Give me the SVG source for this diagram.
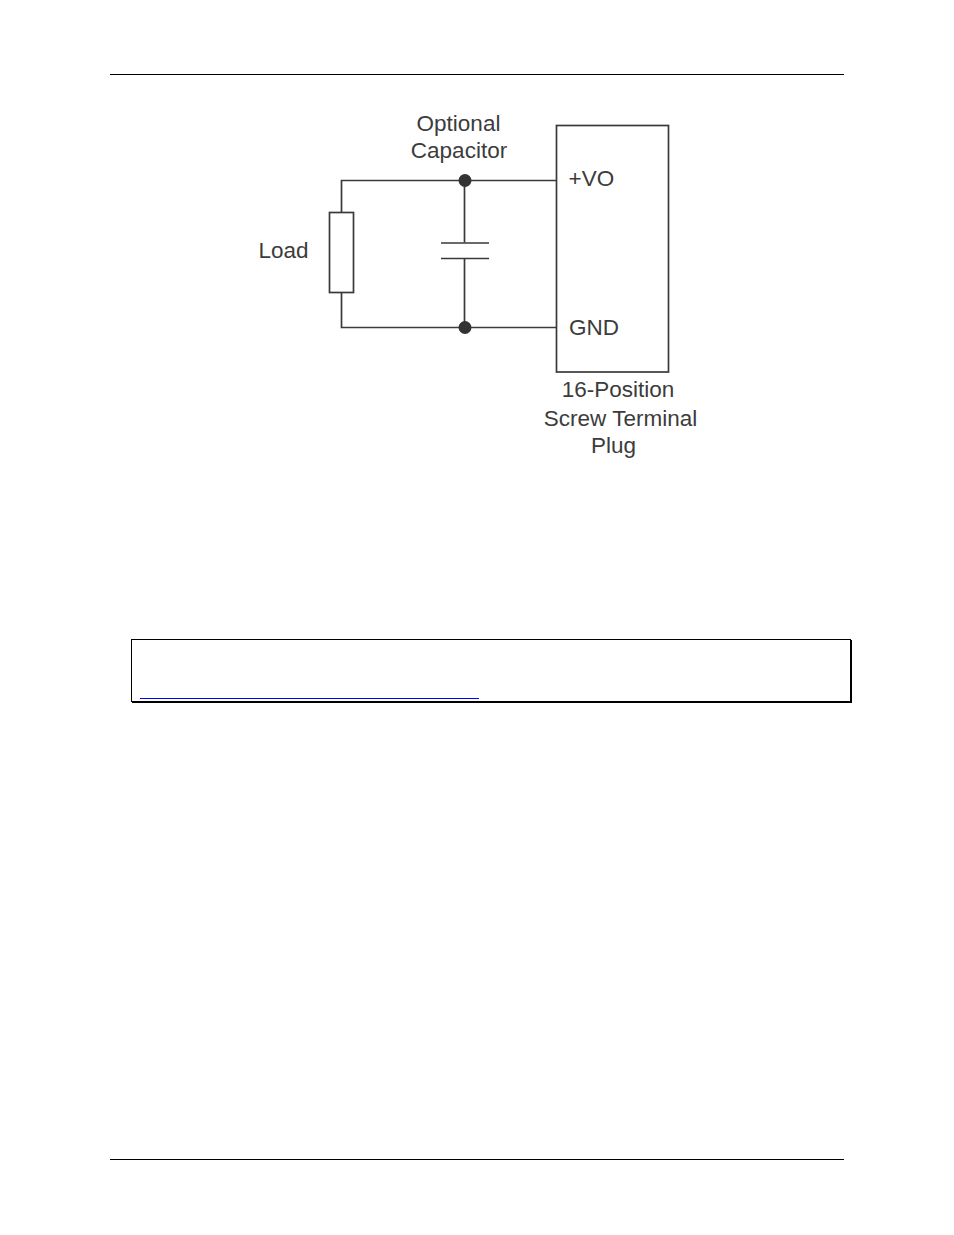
<svg xmlns="http://www.w3.org/2000/svg" width="954" height="1235" viewBox="0 0 954 1235">
<style>
.w{fill:none;stroke:#3a3a3a;stroke-width:1.7}
.t{font-family:"Liberation Sans",Arial,sans-serif;font-size:22.5px;fill:#3c3c3c}
.r{fill:#000}
.d{fill:#333}
</style>
<rect width="954" height="1235" fill="#fff"/>
<g id="page-rules">
<rect class="r" x="110" y="74" width="734" height="1"/>
<rect class="r" x="110" y="1159" width="734" height="1"/>
</g>
<g id="connectors">
<path class="w" d="M341.500 212V180.500H556.500"/>
<path class="w" d="M341.500 292.500V327.500H556.500"/>
<path class="w" d="M464.500 180.500V242.500"/>
<path class="w" d="M464.500 258.500V327.500"/>
</g>
<g id="load">
<rect class="w" x="329.500" y="212.500" width="24" height="80"/>
<text class="t" x="258.500" y="257.500">Load</text>
</g>
<g id="capacitor">
<path class="w" d="M441 243H489M441 258.500H489"/>
<text class="t" x="458.500" y="131" text-anchor="middle">Optional</text>
<text class="t" x="459" y="158" text-anchor="middle">Capacitor</text>
</g>
<g id="junction-top"><circle class="d" cx="465" cy="180.500" r="6.500"/></g>
<g id="junction-bottom"><circle class="d" cx="465" cy="327.500" r="6.500"/></g>
<g id="terminal">
<rect class="w" x="556.500" y="125.500" width="112" height="246.500"/>
<text class="t" x="568.500" y="186">+VO</text>
<text class="t" x="569" y="335">GND</text>
<text class="t" x="618" y="397" text-anchor="middle">16-Position</text>
<text class="t" x="620.500" y="426" text-anchor="middle">Screw Terminal</text>
<text class="t" x="613.500" y="453" text-anchor="middle">Plug</text>
</g>
<g id="note">
<rect x="131.500" y="639.500" width="719" height="62" fill="none" stroke="#000" stroke-width="1"/>
<rect class="r" x="132" y="701" width="720" height="2"/>
<rect class="r" x="850" y="640" width="2" height="63"/>
<rect x="140" y="698" width="339" height="1" fill="#0000ff"/>
</g>
</svg>
